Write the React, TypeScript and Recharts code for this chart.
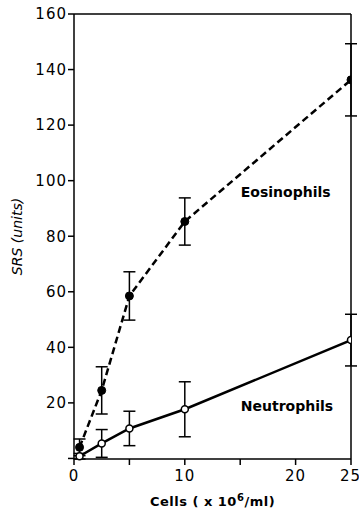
import { ComposedChart, Line, XAxis, YAxis, ErrorBar, ReferenceDot } from 'recharts';

const cells = [0.5, 2.5, 5, 10, 25];
const eosinophils = [4, 24.5, 58.5, 85.3, 136.3];
const eosErr = [3, 8.5, 8.7, 8.5, 13];
const neutrophils = [0.8, 5.4, 10.8, 17.7, 42.6];
const neutErr = [1, 5, 6.2, 9.9, 9.3];

const xTicks = [0, 5, 10, 15, 20, 25];
const xLabelled = [0, 10, 20, 25];
const yTicks = [0, 20, 40, 60, 80, 100, 120, 140, 160];

const data = cells.map((c, i) => ({
  cells: c,
  eos: eosinophils[i],
  eosErr: eosErr[i],
  neut: neutrophils[i],
  neutErr: neutErr[i],
}));

const font = '"DejaVu Sans", sans-serif';
const tickStyle = { fill: '#000', fontSize: 15, fontFamily: font, letterSpacing: 1 };

export default function App() {
  return (
    <div style={{ position: 'absolute', left: 0, top: 0, background: '#fff' }}>
      <ComposedChart width={359} height={514} data={data} margin={{ top: 14, right: 0, bottom: 0, left: 0 }}>
        <XAxis
          xAxisId="b"
          dataKey="cells"
          type="number"
          domain={[0, 25]}
          ticks={xTicks}
          allowDataOverflow
          height={55}
          stroke="#000"
          strokeWidth={1.5}
          tickSize={6}
          tickMargin={5}
          tick={tickStyle}
          tickFormatter={(v: number) => (xLabelled.includes(v) ? String(v) : '')}
          label={{
            content: (props: any) => {
              const vb = props.viewBox || {};
              return (
                <text
                  x={vb.x + vb.width / 2}
                  y={vb.y + vb.height - 8}
                  textAnchor="middle"
                  fontFamily={font}
                  fontSize={13}
                  fontWeight="bold"
                  letterSpacing={0.5}
                  fill="#000"
                >
                  Cells ( x 10<tspan dy={-5} fontSize={10}>6</tspan>
                  <tspan dy={5}>/ml)</tspan>
                </text>
              );
            },
          }}
        />
        <XAxis
          xAxisId="t"
          orientation="top"
          dataKey="cells"
          type="number"
          domain={[0, 25]}
          ticks={xTicks}
          allowDataOverflow
          height={1}
          mirror
          tick={false}
          tickSize={5}
          stroke="#000"
          strokeWidth={1.5}
        />
        <YAxis
          yAxisId="l"
          type="number"
          domain={[0, 160]}
          ticks={yTicks}
          width={74}
          stroke="#000"
          strokeWidth={1.5}
          tickSize={6}
          tickMargin={1}
          tick={tickStyle}
          tickFormatter={(v: number) => (v === 0 ? '' : String(v))}
          label={{
            content: (props: any) => {
              const vb = props.viewBox || {};
              const cx = 17;
              const cy = vb.y + vb.height / 2;
              return (
                <text
                  x={cx}
                  y={cy}
                  transform={`rotate(-90 ${cx} ${cy})`}
                  textAnchor="middle"
                  dominantBaseline="central"
                  fontFamily={font}
                  fontSize={14}
                  fontStyle="italic"
                  fill="#000"
                >
                  SRS (units)
                </text>
              );
            },
          }}
        />
        <YAxis
          yAxisId="r"
          orientation="right"
          type="number"
          domain={[0, 160]}
          ticks={yTicks}
          width={8}
          stroke="#000"
          strokeWidth={1.5}
          tickSize={5}
          tick={false}
        />
        <Line
          xAxisId="b"
          yAxisId="l"
          dataKey="eos"
          stroke="#000"
          strokeWidth={2.5}
          strokeDasharray="7 4"
          dot={{ r: 4, fill: '#000', stroke: '#000', strokeWidth: 1, strokeDasharray: '' }}
          isAnimationActive={false}
        >
          <ErrorBar dataKey="eosErr" direction="y" width={6} stroke="#000" strokeWidth={1.5} />
        </Line>
        <Line
          xAxisId="b"
          yAxisId="l"
          dataKey="neut"
          stroke="#000"
          strokeWidth={2.5}
          dot={{ r: 3.5, fill: '#fff', stroke: '#000', strokeWidth: 1.5 }}
          isAnimationActive={false}
        >
          <ErrorBar dataKey="neutErr" direction="y" width={6} stroke="#000" strokeWidth={1.5} />
        </Line>
        <ReferenceDot
          xAxisId="b"
          yAxisId="l"
          x={14.6}
          y={96}
          r={0}
          label={{ value: 'Eosinophils', position: 'right', fill: '#000', fontFamily: font, fontSize: 14, fontWeight: 'bold' }}
        />
        <ReferenceDot
          xAxisId="b"
          yAxisId="l"
          x={14.6}
          y={18.7}
          r={0}
          label={{ value: 'Neutrophils', position: 'right', fill: '#000', fontFamily: font, fontSize: 14, fontWeight: 'bold' }}
        />
      </ComposedChart>
    </div>
  );
}
